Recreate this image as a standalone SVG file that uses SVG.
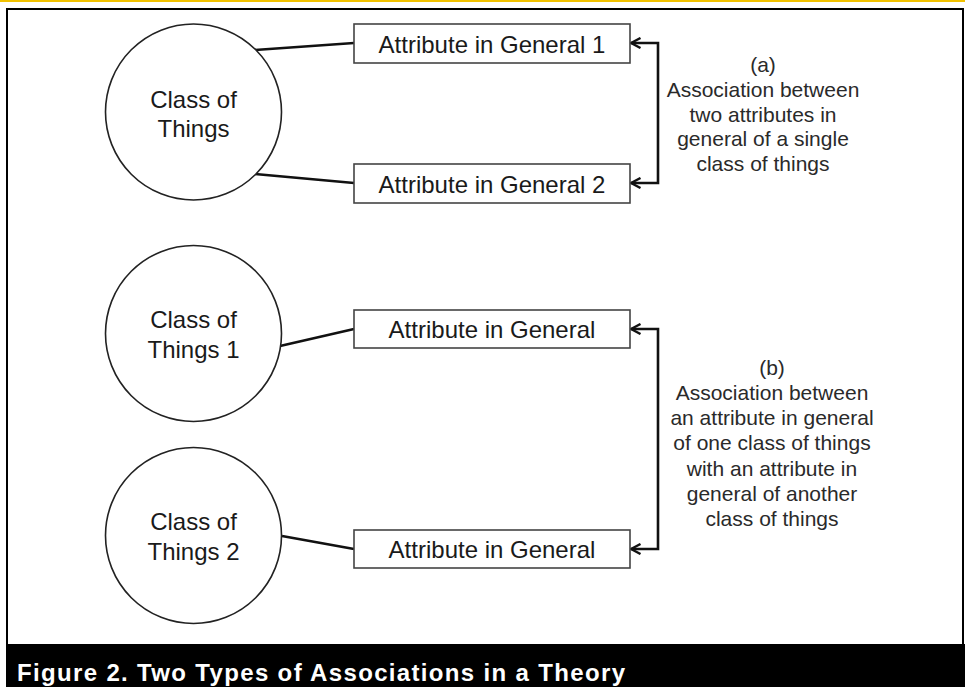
<svg xmlns="http://www.w3.org/2000/svg" width="965" height="687" viewBox="0 0 965 687">
<style>
.node{fill:#fff;stroke:#222;stroke-width:1.6}
.box{fill:#fff;stroke:#444;stroke-width:1.6}
.lbl{font-family:"Liberation Sans",Arial,sans-serif;font-size:24px;fill:#1a1a1a;text-anchor:middle}
.note{font-family:"Liberation Sans",Arial,sans-serif;font-size:21px;fill:#2a2a2a;text-anchor:middle}
.conn{fill:none;stroke:#111;stroke-width:2.6}
.cap{font-family:"Liberation Sans",Arial,sans-serif;font-size:24px;font-weight:bold;fill:#fff}
</style>
<defs>
<marker id="chev" viewBox="0 0 12 12" refX="11" refY="6" markerWidth="12" markerHeight="12" markerUnits="userSpaceOnUse" orient="auto-start-reverse">
<polyline points="1.5,1 11,6 1.5,11" fill="none" stroke="#111" stroke-width="2.4"/>
</marker>
</defs>
<rect x="0" y="0" width="965" height="687" fill="#fff"/>
<rect x="0" y="0" width="965" height="2" fill="#f2c200"/>
<rect id="frame" x="7" y="9" width="956" height="640" fill="#fff" stroke="#000" stroke-width="2"/>
<g id="connectors">
<line class="conn" x1="255" y1="50" x2="354" y2="43"/>
<line class="conn" x1="255" y1="174" x2="354" y2="183"/>
<line class="conn" x1="280" y1="346" x2="354" y2="329"/>
<line class="conn" x1="282" y1="536" x2="354" y2="549"/>
<path class="conn" d="M631 43 H658 V183 H631" marker-start="url(#chev)" marker-end="url(#chev)"/>
<path class="conn" d="M631 329 H658 V549 H631" marker-start="url(#chev)" marker-end="url(#chev)"/>
</g>
<g id="class1">
<circle class="node" cx="193.5" cy="112" r="88"/>
<text class="lbl" x="193.5" y="108">Class of</text>
<text class="lbl" x="193.5" y="137">Things</text>
</g>
<g id="class2">
<circle class="node" cx="193.5" cy="333.5" r="88"/>
<text class="lbl" x="193.5" y="328">Class of</text>
<text class="lbl" x="193.5" y="358">Things 1</text>
</g>
<g id="class3">
<circle class="node" cx="193.5" cy="535.5" r="88"/>
<text class="lbl" x="193.5" y="530">Class of</text>
<text class="lbl" x="193.5" y="560">Things 2</text>
</g>
<g id="attr1">
<rect class="box" x="354" y="24" width="276" height="39"/>
<text class="lbl" x="492" y="53">Attribute in General 1</text>
</g>
<g id="attr2">
<rect class="box" x="354" y="164" width="276" height="39"/>
<text class="lbl" x="492" y="193">Attribute in General 2</text>
</g>
<g id="attr3">
<rect class="box" x="354" y="310" width="276" height="38"/>
<text class="lbl" x="492" y="338">Attribute in General</text>
</g>
<g id="attr4">
<rect class="box" x="354" y="530" width="276" height="38"/>
<text class="lbl" x="492" y="558">Attribute in General</text>
</g>
<g id="noteA">
<text class="note" x="763" y="72">(a)</text>
<text class="note" x="763" y="97">Association between</text>
<text class="note" x="763" y="122">two attributes in</text>
<text class="note" x="763" y="146">general of a single</text>
<text class="note" x="763" y="171">class of things</text>
</g>
<g id="noteB">
<text class="note" x="772" y="375">(b)</text>
<text class="note" x="772" y="400">Association between</text>
<text class="note" x="772" y="425">an attribute in general</text>
<text class="note" x="772" y="450">of one class of things</text>
<text class="note" x="772" y="476">with an attribute in</text>
<text class="note" x="772" y="501">general of another</text>
<text class="note" x="772" y="526">class of things</text>
</g>
<g id="caption">
<rect x="6" y="644" width="959" height="43" fill="#000"/>
<text class="cap" x="17" y="681" textLength="608" lengthAdjust="spacing">Figure 2. Two Types of Associations in a Theory</text>
</g>
</svg>
